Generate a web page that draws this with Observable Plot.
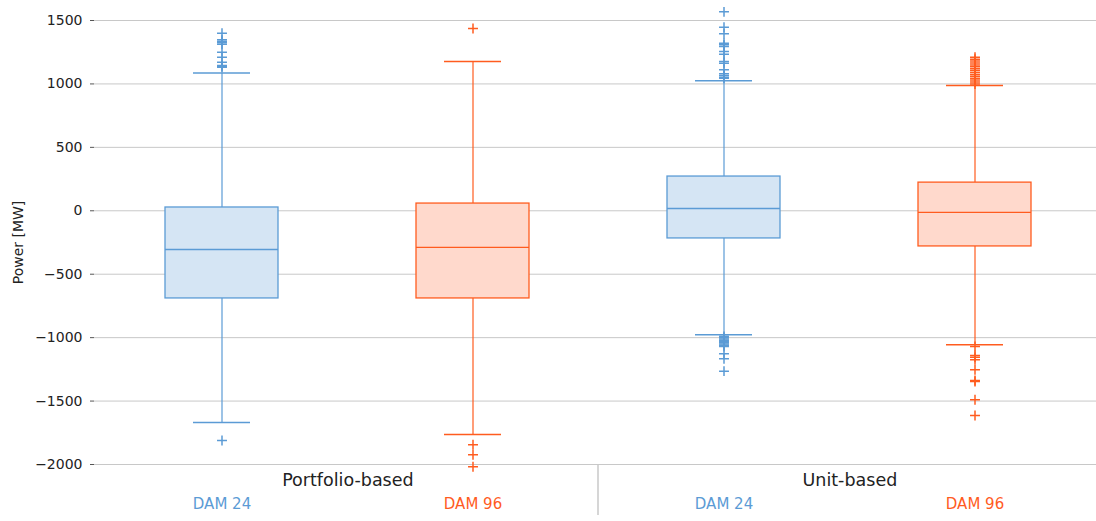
<!DOCTYPE html>
<html>
<head>
<meta charset="utf-8">
<script src="https://cdn.jsdelivr.net/npm/d3@7"></script>
<script src="https://cdn.jsdelivr.net/npm/@observablehq/plot@0.6"></script>
<style>
  html, body { margin: 0; padding: 0; background: #fff; overflow: hidden; }
  #chart { width: 1096px; height: 521px; }
</style>
</head>
<body>
<div id="chart"></div>
<script>
// ---- data ----
const groups  = ["Portfolio-based", "Portfolio-based", "Unit-based", "Unit-based"];
const markets = ["DAM 24", "DAM 96", "DAM 24", "DAM 96"];
const lowWhisker  = [-1668, -1763, -977, -1056];
const q1          = [-691, -691, -218, -281];
const medians     = [-305, -289, 18, -13];
const q3          = [26, 57, 270, 222];
const highWhisker = [1086, 1177, 1026, 987];

const outliersPortfolio24 = [1400, 1348, 1337, 1324, 1313, 1250, 1211, 1171, 1145, 1138, 1132, -1811];
const outliersPortfolio96 = [1437, -1844, -1923, -2018];
const outliersUnit24 = [1568, 1447, 1395, 1321, 1308, 1295, 1256, 1234, 1177, 1163, 1111, 1080, 1066, 1053, 1045,
  -990, -1000, -1010, -1020, -1030, -1040, -1050, -1060, -1070, -1127, -1167, -1264];
const outliersUnit96 = [1210, 1195, 1180, 1165, 1150, 1135, 1120, 1105, 1090, 1075, 1060, 1045, 1030, 1015, 1000,
  -1070, -1141, -1155, -1175, -1253, -1338, -1345, -1490, -1614];

const yTicks = [-2000, -1500, -1000, -500, 0, 500, 1000, 1500];
const groupLabels = ["Portfolio-based", "Unit-based"];
const yLabel = "Power [MW]";

const strokeColors = {"DAM 24": "#5b9bd5", "DAM 96": "#ff5c1f"};
const fillColors   = {"DAM 24": "#d5e5f4", "DAM 96": "#ffd9cc"};

// ---- tables built from the arrays ----
const keys = groups.map((g, i) => g + "|" + markets[i]);
const boxes = keys.map((k, i) => ({
  key: k, group: groups[i], market: markets[i],
  low: lowWhisker[i], q1: q1[i], median: medians[i], q3: q3[i], high: highWhisker[i]
}));
const outlierLists = [outliersPortfolio24, outliersPortfolio96, outliersUnit24, outliersUnit96];
const outliers = outlierLists.flatMap((list, i) => list.map(v => ({key: keys[i], market: markets[i], value: v})));
const groupRows = groupLabels.map(g => ({key: keys[groups.indexOf(g)], label: g}));

const W = 1096, H = 521;
const marginLeft = 94, marginRight = -5;
const band = (W - marginRight - marginLeft) / keys.length;
const fmt = d3.format("d");

const chart = Plot.plot({
  width: W,
  height: H,
  marginLeft,
  marginRight,
  marginTop: 20,
  marginBottom: 57,
  style: {fontFamily: "'DejaVu Sans', Verdana, sans-serif", fontSize: "14px", color: "#222", background: "#fff", overflow: "visible"},
  x: {type: "band", domain: keys, padding: 0, axis: null},
  y: {domain: [-2000, 1500], axis: null},
  marks: [
    Plot.ruleY(yTicks, {stroke: "#c8c8c8", strokeWidth: 1}),
    Plot.axisY({ticks: yTicks, tickSize: 4, tickFormat: () => "", label: null, stroke: "#555"}),
    Plot.text(yTicks, {y: d => d, text: d => fmt(d), frameAnchor: "left", textAnchor: "end", dx: -12, fontSize: 14, fill: "#222"}),
    Plot.text([yLabel], {frameAnchor: "left", textAnchor: "middle", dx: -76, rotate: -90, fontSize: 14, fill: "#222"}),
    // whiskers
    Plot.ruleX(boxes, {x: "key", y1: "q3", y2: "high", stroke: d => strokeColors[d.market], strokeWidth: 1.2}),
    Plot.ruleX(boxes, {x: "key", y1: "low", y2: "q1", stroke: d => strokeColors[d.market], strokeWidth: 1.2}),
    // whisker caps
    Plot.tickY(boxes, {x: "key", y: "high", stroke: d => strokeColors[d.market], strokeWidth: 1.5, insetLeft: 97, insetRight: 97}),
    Plot.tickY(boxes, {x: "key", y: "low", stroke: d => strokeColors[d.market], strokeWidth: 1.5, insetLeft: 97, insetRight: 97}),
    // boxes
    Plot.barY(boxes, {x: "key", y1: "q1", y2: "q3", fill: d => fillColors[d.market], stroke: d => strokeColors[d.market], strokeWidth: 1.3, insetLeft: 69, insetRight: 69}),
    Plot.tickY(boxes, {x: "key", y: "median", stroke: d => strokeColors[d.market], strokeWidth: 1.3, insetLeft: 69, insetRight: 69}),
    // outliers
    Plot.dot(outliers, {x: "key", y: "value", symbol: "plus", r: 3.3, stroke: d => strokeColors[d.market], strokeWidth: 1.5}),
    // category labels
    Plot.text(boxes, {x: "key", text: "market", frameAnchor: "bottom", dy: 44, fontSize: 15, fill: d => strokeColors[d.market]}),
    Plot.text(groupRows, {x: "key", text: "label", frameAnchor: "bottom", dx: band / 2, dy: 21, fontSize: 17.5, fill: "#222"})
  ]
});

// group separator below the plot, positioned through the chart's own scales
const xs = chart.scale("x"), ys = chart.scale("y");
const sepX = xs.apply(keys[groups.indexOf(groupLabels[1])]);
const y0 = ys.apply(-2000);
d3.select(chart).append("line")
  .attr("x1", sepX).attr("x2", sepX)
  .attr("y1", y0).attr("y2", y0 + 51)
  .attr("stroke", "#c8c8c8").attr("stroke-width", 1.5);

document.getElementById("chart").appendChild(chart);
</script>
</body>
</html>
